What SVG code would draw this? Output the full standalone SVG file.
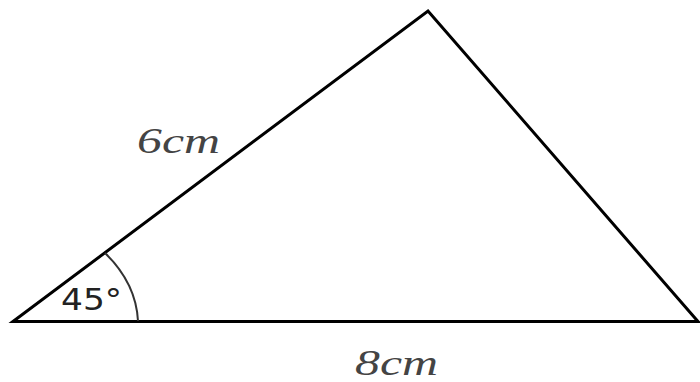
<svg xmlns="http://www.w3.org/2000/svg" width="700" height="382" viewBox="0 0 700 382">
<style>
.edge{fill:none;stroke:#000;stroke-width:3;stroke-linejoin:miter}
.arc{fill:none;stroke:#333;stroke-width:2}
.lbl{font-family:"Liberation Serif",serif;font-style:italic;font-size:36px;fill:#444}
.ang{font-family:"DejaVu Sans",sans-serif;font-size:31px;fill:#222}
</style>
<rect width="700" height="382" fill="#fff"/>
<g id="connectors">
<path class="edge" d="M13,321.5 L428,11 L698,321.5 Z"/>
<path class="arc" d="M105,253 Q136,283 138,321"/>
</g>
<g id="side-a"><text class="lbl" x="137" y="153" textLength="83" lengthAdjust="spacingAndGlyphs">6cm</text></g>
<g id="side-b"><text class="lbl" x="355" y="375" textLength="83" lengthAdjust="spacingAndGlyphs">8cm</text></g>
<g id="angle"><text class="ang" x="61" y="310" textLength="61" lengthAdjust="spacingAndGlyphs">45°</text></g>
</svg>
